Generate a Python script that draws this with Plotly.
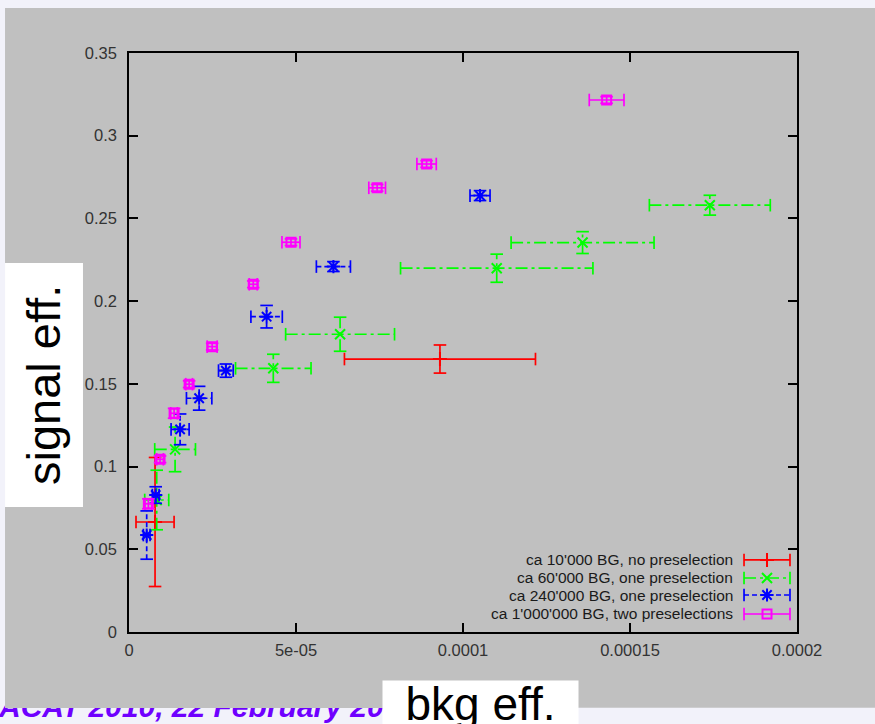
import plotly.graph_objects as go

# ---------------- data ----------------
series_names = [
    "ca 10'000 BG, no preselection",
    "ca 60'000 BG, one preselection",
    "ca 240'000 BG, one preselection",
    "ca 1'000'000 BG, two preselections",
]

red_x = [0.78e-5, 9.31e-5]
red_y = [0.0665, 0.165]
red_xerr = [0.57e-5, 2.86e-5]
red_yerr = [0.039, 0.0085]

green_x = [0.83e-5, 1.38e-5, 4.32e-5, 6.32e-5, 11.01e-5, 13.58e-5, 17.39e-5]
green_y = [0.0798, 0.1104, 0.1594, 0.180, 0.2199, 0.2354, 0.258]
green_xerr = [0.36e-5, 0.61e-5, 1.13e-5, 1.63e-5, 2.88e-5, 2.14e-5, 1.81e-5]
green_yerr = [0.018, 0.0135, 0.0085, 0.0103, 0.0085, 0.0066, 0.006]

blue_x = [0.53e-5, 0.80e-5, 1.53e-5, 2.10e-5, 2.90e-5, 4.12e-5, 6.12e-5, 10.51e-5]
blue_y = [0.0586, 0.0828, 0.1225, 0.1413, 0.158, 0.1906, 0.2209, 0.2638]
blue_xerr = [0.10e-5, 0.10e-5, 0.27e-5, 0.38e-5, 0.22e-5, 0.47e-5, 0.51e-5, 0.30e-5]
blue_yerr = [0.0146, 0.005, 0.0093, 0.0072, 0.004, 0.0068, 0.003, 0.003]

mag_x = [0.58e-5, 0.93e-5, 1.35e-5, 1.80e-5, 2.49e-5, 3.72e-5, 4.85e-5, 7.43e-5, 8.91e-5, 14.3e-5]
mag_y = [0.0775, 0.1044, 0.1322, 0.1498, 0.1725, 0.2102, 0.2356, 0.2685, 0.2829, 0.3216]
mag_xerr = [0.10e-5, 0.10e-5, 0.10e-5, 0.10e-5, 0.15e-5, 0.12e-5, 0.27e-5, 0.25e-5, 0.29e-5, 0.52e-5]
mag_yerr = [0.003, 0.002, 0.003, 0.002, 0.002, 0.002, 0.002, 0.002, 0.002, 0.002]

x_tick_vals = [0, 5e-5, 1e-4, 1.5e-4, 2e-4]
x_tick_text = ["0", "5e-05", "0.0001", "0.00015", "0.0002"]
y_tick_vals = [0, 0.05, 0.1, 0.15, 0.2, 0.25, 0.3, 0.35]
y_tick_text = ["0", "0.05", "0.1", "0.15", "0.2", "0.25", "0.3", "0.35"]

footer_text = "ACAT 2010, 22 February 2010"

# legend sample placement (fractions of the plot area)
legend_rows = [0.1244, 0.0933, 0.0639, 0.0311]
legend_sample = [0.9207, 0.9895]
legend_text_right = 0.907

# ---------------- styles ----------------
styles = [
    dict(color="#FF0000", dash="solid", symbol="cross-thin-open", size=10),
    dict(color="#00FF00", dash="12px,4px,3px,4px", symbol="x-thin-open", size=10),
    dict(color="#0000FF", dash="5px,3px", symbol="asterisk-open", size=11),
    dict(color="#FF00FF", dash="solid", symbol="square-open", size=9),
]
LW = 1.7
CAP = 9
FONT = "Liberation Sans, Arial, sans-serif"
PANEL = "#C0C0C0"

fig = go.Figure()


def add_series(xs, ys, xe, ye, st, xaxis="x", yaxis="y", vertical=True):
    bx, by = [], []
    hx, hy, vx, vy = [], [], [], []
    for x, y, ex, ey in zip(xs, ys, xe, ye):
        bx += [x - ex, x + ex, None]
        by += [y, y, None]
        hx += [x - ex, x + ex]
        hy += [y, y]
        if vertical:
            bx += [x, x, None]
            by += [y - ey, y + ey, None]
            vx += [x, x]
            vy += [y - ey, y + ey]
    common = dict(xaxis=xaxis, yaxis=yaxis, showlegend=False, hoverinfo="skip")
    fig.add_trace(go.Scatter(x=bx, y=by, mode="lines",
                             line=dict(color=st["color"], width=LW, dash=st["dash"]), **common))
    fig.add_trace(go.Scatter(x=hx, y=hy, mode="markers",
                             marker=dict(symbol="line-ns", size=CAP, line=dict(color=st["color"], width=LW)),
                             **common))
    if vertical:
        fig.add_trace(go.Scatter(x=vx, y=vy, mode="markers",
                                 marker=dict(symbol="line-ew", size=CAP, line=dict(color=st["color"], width=LW)),
                                 **common))
    fig.add_trace(go.Scatter(x=xs, y=ys, mode="markers",
                             marker=dict(symbol=st["symbol"], size=st["size"], color=st["color"],
                                         line=dict(color=st["color"], width=2)),
                             **common))


data = [
    (red_x, red_y, red_xerr, red_yerr),
    (green_x, green_y, green_xerr, green_yerr),
    (blue_x, blue_y, blue_xerr, blue_yerr),
    (mag_x, mag_y, mag_xerr, mag_yerr),
]
for (xs, ys, xe, ye), st in zip(data, styles):
    add_series(xs, ys, xe, ye, st)

# legend samples on a hidden overlay axis
cx = (legend_sample[0] + legend_sample[1]) / 2
half = (legend_sample[1] - legend_sample[0]) / 2
for row, st in zip(legend_rows, styles):
    add_series([cx], [row], [half], [0], st, xaxis="x2", yaxis="y2", vertical=False)

annotations = []
for row, name in zip(legend_rows, series_names):
    annotations.append(dict(text=name, xref="paper", yref="paper", x=legend_text_right, y=row,
                            xanchor="right", yanchor="middle", showarrow=False,
                            font=dict(family=FONT, size=15.5, color="#1a1a1a")))

# slide footer, partly hidden under the grey panel
annotations.append(dict(text="<b><i>" + footer_text + "</i></b>", xref="paper", yref="paper",
                        x=-0.199, y=-0.1285, xanchor="left", yanchor="middle", showarrow=False,
                        font=dict(family=FONT, size=30, color="#6F00FF")))
# grey panel part covering the footer (annotation so it stacks above the footer text)
annotations.append(dict(text=" ", xref="paper", yref="paper",
                        x=-0.1856, y=-0.131, xanchor="left", yanchor="bottom", showarrow=False,
                        width=380, height=42, bgcolor=PANEL, borderpad=0, borderwidth=0,
                        font=dict(family=FONT, size=10, color=PANEL)))

# axis titles in white boxes
annotations.append(dict(text="bkg eff.", xref="paper", yref="paper",
                        x=0.5262, y=-0.1252, xanchor="center", yanchor="middle", showarrow=False,
                        width=195, height=46, bgcolor="white", borderpad=0,
                        font=dict(family=FONT, size=46, color="black")))
annotations.append(dict(text="signal eff.", xref="paper", yref="paper",
                        x=-0.1272, y=0.4266, xanchor="center", yanchor="middle", showarrow=False,
                        textangle=-90,
                        font=dict(family=FONT, size=47, color="black")))

shapes = [
    # grey panel
    dict(type="rect", xref="paper", yref="paper", x0=-0.1856, x1=1.12, y0=-0.131, y1=1.0777,
         fillcolor=PANEL, line=dict(width=0), layer="below"),
    # white box behind y title
    dict(type="rect", xref="paper", yref="paper", x0=-0.1856, x1=-0.0689, y0=0.2159, y1=0.6373,
         fillcolor="white", line=dict(width=0), layer="above"),
]

axis_common = dict(showline=True, linecolor="black", linewidth=1.5, mirror="ticks",
                   ticks="inside", ticklen=9, tickwidth=1.5, tickcolor="black",
                   showgrid=False, zeroline=False,
                   tickfont=dict(family=FONT, size=16.5, color="#333333"))

fig.update_layout(
    width=875, height=724, autosize=False,
    margin=dict(l=129, r=78, t=53, b=92, pad=0),
    paper_bgcolor="#F2F2FA",
    plot_bgcolor="rgba(0,0,0,0)",
    showlegend=False,
    xaxis=dict(range=[0, 2e-4], tickvals=x_tick_vals, ticktext=x_tick_text,
               ticklabelstandoff=2, **axis_common),
    yaxis=dict(range=[0, 0.35], tickvals=y_tick_vals, ticktext=y_tick_text,
               ticklabelstandoff=7, **axis_common),
    xaxis2=dict(range=[0, 1], overlaying="x", anchor="y2", visible=False),
    yaxis2=dict(range=[0, 1], overlaying="y", anchor="x2", visible=False),
    annotations=annotations,
    shapes=shapes,
)

fig.write_html("out.html")
